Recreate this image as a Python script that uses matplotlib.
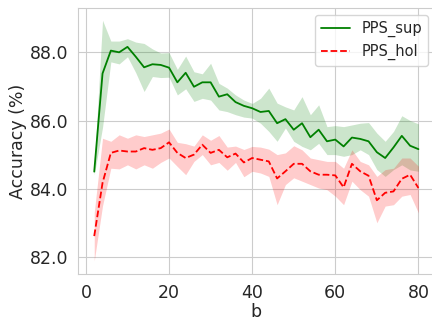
import matplotlib
matplotlib.use("Agg")
import matplotlib.pyplot as plt
import numpy as np
import seaborn as sns
from matplotlib.ticker import FormatStrFormatter

b = list(range(2, 82, 2))

sup_mean = [84.50, 87.38, 88.05, 88.00, 88.16, 87.87, 87.56, 87.65, 87.63, 87.55,
            87.12, 87.40, 86.99, 87.12, 87.12, 86.70, 86.77, 86.54, 86.43, 86.36,
            86.25, 86.28, 85.92, 86.04, 85.73, 85.92, 85.51, 85.73, 85.39, 85.44,
            85.24, 85.50, 85.46, 85.39, 85.07, 84.90, 85.21, 85.55, 85.26, 85.16]
sup_upper = [84.60, 88.94, 88.33, 88.33, 88.40, 88.30, 88.26, 88.10, 87.98, 87.99,
             87.50, 87.89, 87.43, 87.37, 87.68, 87.09, 86.95, 86.75, 86.60, 86.50,
             86.65, 86.95, 86.51, 86.40, 86.31, 86.70, 86.17, 86.46, 85.82, 85.85,
             85.82, 85.87, 85.92, 85.94, 85.63, 85.39, 85.68, 86.14, 86.00, 85.90]
sup_lower = [84.40, 85.80, 87.72, 87.66, 87.87, 87.40, 86.85, 87.29, 87.26, 87.27,
             86.75, 86.93, 86.56, 86.65, 86.60, 86.31, 86.26, 86.17, 86.10, 86.07,
             85.92, 85.68, 85.39, 85.78, 85.39, 85.24, 85.14, 85.33, 85.00, 85.00,
             84.95, 85.00, 85.14, 85.00, 84.56, 84.36, 84.56, 84.70, 84.55, 84.51]

hol_mean = [82.61, 84.17, 85.05, 85.12, 85.09, 85.09, 85.19, 85.14, 85.19, 85.36,
            85.05, 84.90, 85.00, 85.29, 85.05, 85.14, 84.92, 85.03, 84.77, 84.90,
            84.85, 84.80, 84.30, 84.51, 84.73, 84.73, 84.51, 84.41, 84.41, 84.39,
            84.04, 84.73, 84.51, 84.38, 83.66, 83.88, 83.92, 84.29, 84.41, 84.02]
hol_upper = [83.30, 85.48, 85.39, 85.58, 85.48, 85.58, 85.53, 85.58, 85.63, 85.75,
             85.36, 85.32, 85.25, 85.58, 85.42, 85.56, 85.22, 85.25, 85.15, 85.24,
             85.22, 85.16, 85.00, 85.05, 85.26, 85.14, 84.90, 84.85, 84.80, 84.80,
             84.60, 85.14, 84.80, 84.70, 84.36, 84.56, 84.60, 84.90, 84.90, 84.66]
hol_lower = [81.88, 83.50, 84.60, 84.58, 84.70, 84.58, 84.70, 84.60, 84.77, 84.90,
             84.65, 84.41, 84.80, 85.00, 84.70, 84.77, 84.54, 84.77, 84.35, 84.51,
             84.46, 84.36, 83.53, 84.12, 84.32, 84.22, 84.12, 84.02, 83.97, 83.78,
             83.53, 84.22, 83.97, 83.78, 83.00, 83.49, 83.53, 83.78, 83.83, 83.29]

sns.set_style("whitegrid")
plt.rcParams["font.family"] = ["DejaVu Sans"]

fig = plt.figure(figsize=(4.32, 3.2), dpi=100)
ax = fig.add_axes([0.1806, 0.144, 0.8255, 0.831])

ax.plot(b, sup_mean, color="g", linewidth=1.3, label="PPS_sup")
ax.fill_between(b, sup_lower, sup_upper, color="g", alpha=0.2, linewidth=0)
ax.plot(b, hol_mean, color="r", linestyle="--", linewidth=1.3, label="PPS_hol")
ax.fill_between(b, hol_lower, hol_upper, color="r", alpha=0.2, linewidth=0)

ax.set_xlim(-1.9, 83.9)
ax.set_ylim(81.5, 89.3)
ax.set_xticks([0, 20, 40, 60, 80])
ax.set_yticks([82, 84, 86, 88])
ax.yaxis.set_major_formatter(FormatStrFormatter("%.1f"))
ax.tick_params(labelsize=12.5, colors="#262626")
ax.set_xlabel("b", fontsize=12.5, labelpad=1)
ax.set_ylabel("Accuracy (%)", fontsize=12.5, labelpad=2)
ax.legend(loc="upper right", fontsize=10.5, bbox_to_anchor=(0.981, 0.974),
          borderaxespad=0)

fig.savefig("out.png", dpi=100)
